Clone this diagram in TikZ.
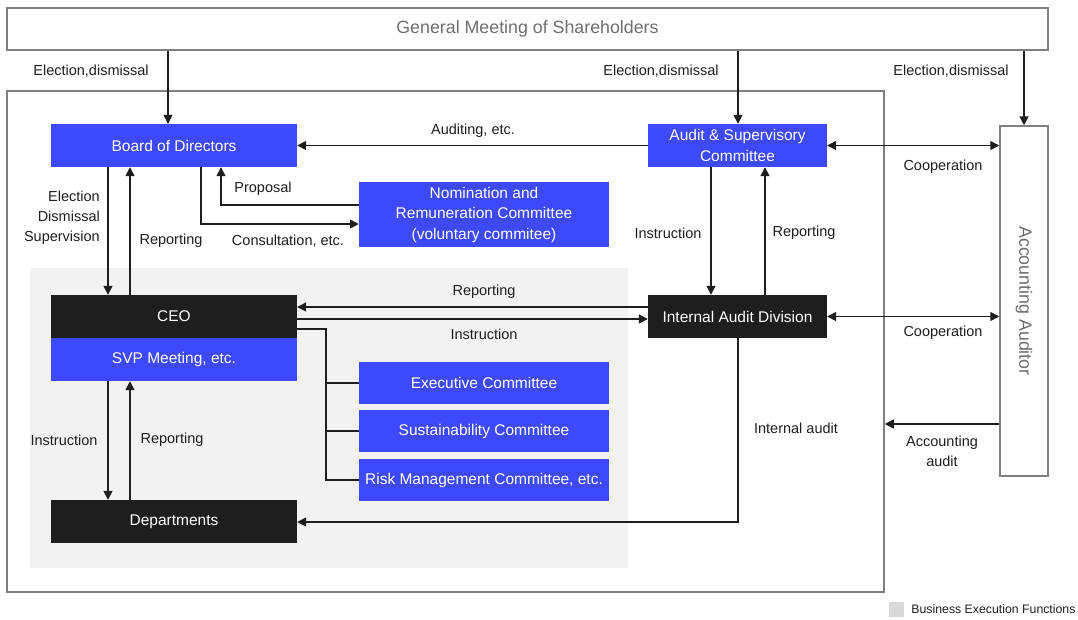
\documentclass[tikz,border=0pt]{standalone}
\usepackage{fontspec}
\setmainfont{Liberation Sans}
\usetikzlibrary{arrows.meta,calc}
\definecolor{bluec}{RGB}{61,73,250}
\definecolor{blackc}{RGB}{30,30,30}
\definecolor{bgc}{RGB}{242,242,242}
\definecolor{framec}{RGB}{128,128,128}
\definecolor{linec}{RGB}{30,30,30}
\definecolor{legc}{RGB}{217,217,217}
\definecolor{gtext}{RGB}{110,110,110}
\tikzset{
  bbox/.style={fill=bluec, text=white, inner sep=0pt, align=center, font=\fontsize{15.5}{20.5}\selectfont},
  kbox/.style={fill=blackc, text=white, inner sep=0pt, align=center, font=\fontsize{15.5}{20.5}\selectfont},
  wbox/.style={draw=framec, line width=1.5pt, fill=white, inner sep=0pt},
  lbl/.style={text=blackc, inner sep=0pt, align=center, font=\fontsize{14.5}{20}\selectfont},
  arr/.style={draw=linec, line width=1.5pt, -{Triangle[length=9pt,width=9pt]}},
  darr/.style={draw=linec, line width=1.5pt, {Triangle[length=9pt,width=9pt]}-{Triangle[length=9pt,width=9pt]}},
  ln/.style={draw=linec, line width=1.5pt},
}
\begin{document}
\begin{tikzpicture}[x=1pt,y=-1pt]
\useasboundingbox (0,0) rectangle (1078,619);
% frames
\fill[bgc] (30,268) rectangle (628,568);
\node[draw=framec, line width=1.5pt, minimum width=877, minimum height=501, inner sep=0pt] (frame) at (445.5,341.5) {};
\node[wbox, minimum width=1041, minimum height=42, text=gtext, font=\fontsize{17.8}{20}\selectfont] (gms) at (527.5,29) {General Meeting of Shareholders};
\node[wbox, minimum width=48, minimum height=350] (aa) at (1024,301) {};
\node[rotate=-90, text=gtext, inner sep=0pt, font=\fontsize{17.8}{20}\selectfont] (aat) at (aa.center) {Accounting Auditor};
% boxes
\node[bbox, minimum width=246, minimum height=43] (bod) at (174,145.5) {Board of Directors};
\node[bbox, minimum width=179, minimum height=43] (asc) at (737.5,145.5) {Audit \& Supervisory\\Committee};
\node[bbox, minimum width=250, minimum height=65] (nrc) at (484,214.5) {Nomination and\\Remuneration Committee\\(voluntary commitee)};
\node[kbox, minimum width=246, minimum height=43] (ceo) at (174,316.5) {CEO};
\node[bbox, minimum width=246, minimum height=43] (svp) at (174,359.5) {SVP Meeting, etc.};
\node[bbox, minimum width=250, minimum height=42] (exec) at (484,383) {Executive Committee};
\node[bbox, minimum width=250, minimum height=42] (sus) at (484,431) {Sustainability Committee};
\node[bbox, minimum width=250, minimum height=42] (risk) at (484,480) {Risk Management Committee, etc.};
\node[kbox, minimum width=246, minimum height=43] (dep) at (174,521.5) {Departments};
\node[kbox, minimum width=179, minimum height=43] (iad) at (737.5,316.5) {Internal Audit Division};
% helper coordinates
\coordinate (b1) at ($(bod.north)+(-6,0)$);
\coordinate (a1) at ($(asc.north)+(0.5,0)$);
\coordinate (c1) at (108,0);
\coordinate (c2) at (130,0);
\coordinate (p1) at (221,205);
\coordinate (k1) at (201,224);
\coordinate (i1) at (711,0);
\coordinate (i2) at (765,0);
\coordinate (r1) at (0,307);
\coordinate (r2) at (0,319);
\coordinate (e1) at (326,329);
\coordinate (d1) at (738,522);
\coordinate (y1) at (0,424);
% GMS arrows
\draw[arr] (gms.south -| b1) -- (b1);
\draw[arr] (gms.south -| a1) -- (a1);
\draw[arr] (gms.south -| aa.north) -- (aa.north);
\node[lbl] (l1) at (91,71) {Election,dismissal};
\node[lbl] (l2) at (661,71) {Election,dismissal};
\node[lbl] (l3) at (951,71) {Election,dismissal};
% auditing
\draw[arr] (asc.west) -- (bod.east);
\node[lbl] (l4) at (473,131) {Auditing, etc.};
\draw[darr] (asc.east) -- (asc.east -| aa.west);
\node[lbl] (l5) at (943,167) {Cooperation};
\draw[darr] (iad.east) -- (iad.east -| aa.west);
\node[lbl] (l6) at (943,333) {Cooperation};
\draw[arr] (aa.west |- y1) -- (frame.east |- y1);
\node[lbl] (l7) at (942,451) {Accounting\\audit};
% BoD - CEO
\draw[arr] (bod.south -| c1) -- (ceo.north -| c1);
\draw[arr] (ceo.north -| c2) -- (bod.south -| c2);
\node[lbl, align=right, anchor=east] (l8) at (100,218) {Election\\Dismissal\\Supervision};
\node[lbl] (l9) at (171,241) {Reporting};
% BoD - NRC
\draw[arr] (nrc.west |- p1) -- (p1) -- (bod.south -| p1);
\draw[arr] (bod.south -| k1) -- (k1) -- (nrc.west |- k1);
\node[lbl] (l10) at (263,189) {Proposal};
\node[lbl] (l11) at (288,241) {Consultation, etc.};
% ASC - IAD
\draw[arr] (asc.south -| i1) -- (iad.north -| i1);
\draw[arr] (iad.north -| i2) -- (asc.south -| i2);
\node[lbl] (l12) at (668,233) {Instruction};
\node[lbl] (l13) at (804,233) {Reporting};
% CEO - IAD
\draw[arr] (iad.west |- r1) -- (ceo.east |- r1);
\draw[arr] (ceo.east |- r2) -- (iad.west |- r2);
\node[lbl] (l14) at (484,292) {Reporting};
\node[lbl] (l15) at (484,334) {Instruction};
% CEO - committees
\draw[ln] (ceo.east |- e1) -- (e1) -- (e1 |- risk.west) -- (risk.west);
\draw[ln] (e1 |- exec.west) -- (exec.west);
\draw[ln] (e1 |- sus.west) -- (sus.west);
% SVP - Departments
\draw[arr] (svp.south -| c1) -- (dep.north -| c1);
\draw[arr] (dep.north -| c2) -- (svp.south -| c2);
\node[lbl] (l16) at (64,440) {Instruction};
\node[lbl] (l17) at (172,440) {Reporting};
% internal audit
\draw[arr] (iad.south -| d1) -- (d1) -- (dep.east |- d1);
\node[lbl] (l18) at (796,428) {Internal audit};
% legend
\node[fill=legc, minimum size=15, inner sep=0pt] (leg) at (896.5,609.5) {};
\node[anchor=west, text=blackc, inner sep=0pt, font=\fontsize{12.3}{14}\selectfont] (legt) at ($(leg.east)+(7,0)$) {Business Execution Functions};
\end{tikzpicture}
\end{document}
